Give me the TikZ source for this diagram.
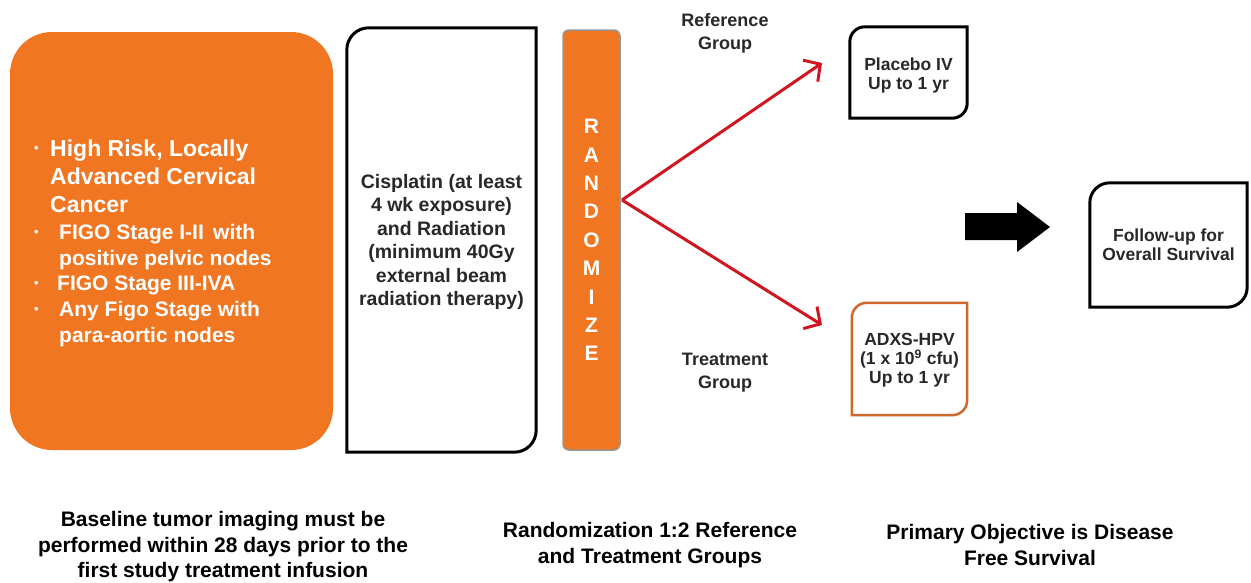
\documentclass[tikz,border=0pt]{standalone}
\usepackage{fontspec}
\setmainfont{Liberation Sans}
\usetikzlibrary{arrows.meta}
\definecolor{orng}{RGB}{240,118,33}
\definecolor{redarr}{RGB}{208,22,32}
\definecolor{txtgray}{RGB}{40,40,40}
\definecolor{adxsb}{RGB}{205,105,45}
\definecolor{bargray}{RGB}{150,150,150}
\newcommand\tlbrbox[3]{\draw[#3] (#1.north east) -- ([yshift=#2]#1.south east) arc[start angle=0,end angle=-90,radius=#2] -- (#1.south west) -- ([yshift=-#2]#1.north west) arc[start angle=180,end angle=90,radius=#2] -- cycle;}
\begin{document}
\begin{tikzpicture}[x=1pt,y=1pt,
  box/.style={inner sep=0pt},
  btxt/.style={inner sep=0pt, align=center, text=txtgray, font=\bfseries\fontsize{17.5}{19}\selectfont},
  wtxt/.style={inner sep=0pt, anchor=base west, text=white, align=left},
  dot/.style={inner sep=0pt, anchor=base west, text=white, font=\bfseries\fontsize{13}{28}\selectfont},
  lbl/.style={inner sep=0pt, align=center, text=txtgray, font=\bfseries\fontsize{18}{23}\selectfont},
  bottom/.style={inner sep=0pt, align=center, text=black, font=\bfseries\fontsize{21}{25.5}\selectfont},
  redarrow/.style={draw=redarr, line width=3pt, -{Straight Barb[length=12pt,width=26pt,line width=3pt]}}]
\useasboundingbox (0,0) rectangle (1251,-582);
\fill[white] (0,0) rectangle (1251,-582);

% orange eligibility box
\node[fill=orng, rounded corners=42pt, minimum width=323pt, minimum height=418pt, inner sep=0pt] (elig) at (171.5,-241) {};
\node[dot] (d1) at (34,-152.5) {\textbullet};
\node[wtxt, font=\bfseries\fontsize{23}{28}\selectfont] (t1) at (50,-212) {High Risk, Locally\\Advanced Cervical\\Cancer};
\node[dot] (d2) at (34,-236) {\textbullet};
\node[wtxt, font=\bfseries\fontsize{21}{26}\selectfont] (t2) at (59,-265.5) {FIGO Stage I-II\, with\\positive pelvic nodes};
\node[dot] (d3) at (34,-287) {\textbullet};
\node[wtxt, font=\bfseries\fontsize{21}{26}\selectfont] (t3) at (57,-290.5) {FIGO Stage III-IVA};
\node[dot] (d4) at (34,-313) {\textbullet};
\node[wtxt, font=\bfseries\fontsize{21}{26}\selectfont] (t4) at (59,-342.5) {Any Figo Stage with\\para-aortic nodes};

% cisplatin box
\node[box, minimum width=189pt, minimum height=424pt] (cis) at (441.5,-240) {};
\tlbrbox{cis}{22pt}{line width=3pt, black}
\node[btxt, font=\bfseries\fontsize{19.5}{23.4}\selectfont] (cist) at (441.5,-242)
  {Cisplatin (at least\\4 wk exposure)\\and Radiation\\(minimum 40Gy\\external beam\\radiation therapy)};

% randomize bar
\node[fill=orng, draw=bargray, line width=1.5pt, rounded corners=6pt, minimum width=57pt, minimum height=420pt, inner sep=0pt,
  text=white, align=center, font=\bfseries\fontsize{21}{28.4}\selectfont] (rand) at (591.5,-240)
  {R\\A\\N\\D\\O\\M\\I\\Z\\E};

% arms
\coordinate (split) at (622,-200);
\coordinate (upend) at (822,-63);
\coordinate (dnend) at (822,-325);
\draw[redarrow] (split) -- (upend);
\draw[redarrow] (split) -- (dnend);
\node[lbl] (refg) at (725,-33) {Reference\\Group};
\node[lbl] (trtg) at (725,-373) {Treatment\\Group};

% placebo box
\node[box, minimum width=117pt, minimum height=91pt] (plac) at (908.5,-72.5) {};
\tlbrbox{plac}{15pt}{line width=3pt, black}
\node[btxt] (plact) at (908.5,-75) {Placebo IV\\Up to 1 yr};

% ADXS box
\node[box, minimum width=115pt, minimum height=112pt] (adxs) at (909.5,-359) {};
\tlbrbox{adxs}{15pt}{line width=2.5pt, adxsb}
\node[btxt] (adxst) at (909.5,-360) {ADXS-HPV\\(1 x 10\textsuperscript{9} cfu)\\Up to 1 yr};

% block arrow
\coordinate (blk) at (1007,-227);
\fill[black] (965,-213) -- (1017,-213) -- (1017,-202) -- (1050,-227) -- (1017,-252) -- (1017,-240) -- (965,-240) -- cycle;

% follow-up box
\node[box, minimum width=157pt, minimum height=124pt] (fup) at (1168.5,-245) {};
\tlbrbox{fup}{20pt}{line width=3pt, black}
\node[btxt] (fupt) at (1168.5,-245) {Follow-up for\\Overall Survival};

% bottom captions
\node[bottom] (cap1) at (223,-547) {Baseline tumor imaging must be\\performed within 28 days prior to the\\first study treatment infusion};
\node[bottom] (cap2) at (650,-545) {Randomization 1:2 Reference\\and Treatment Groups};
\node[bottom] (cap3) at (1030,-545) {Primary Objective is Disease\\Free Survival};
\end{tikzpicture}
\end{document}
